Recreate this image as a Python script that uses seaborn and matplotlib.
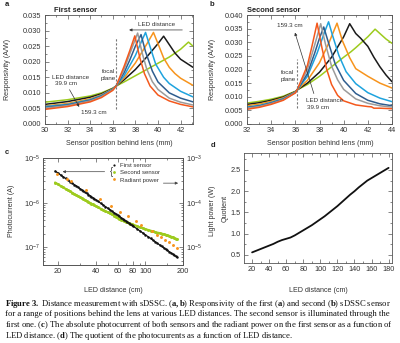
import matplotlib
matplotlib.use("Agg")
import numpy as np
import pandas as pd
import matplotlib.pyplot as plt
import seaborn as sns
from matplotlib.ticker import MultipleLocator, FixedLocator, FixedFormatter, NullFormatter
from matplotlib.lines import Line2D

sns.set_theme(style="ticks")
plt.rcParams['font.family'] = ['Liberation Sans', 'DejaVu Sans']
plt.rcParams['mathtext.fontset'] = 'custom'
plt.rcParams['mathtext.rm'] = 'Liberation Serif'
plt.rcParams['mathtext.bf'] = 'Liberation Serif:bold'
plt.rcParams['mathtext.it'] = 'Liberation Serif:italic'

# ---------------- data ----------------
led_labels = ['39.9 cm', '59.8 cm', '79.7 cm', '99.6 cm', '119.5 cm', '139.4 cm', '159.3 cm']
led_colors = ['#9dcb1e', '#1a1a1a', '#f7941d', '#1ea3de', '#2f5d8e', '#9b9b9b', '#f4581c']

# panel a : first sensor responsivity (A/W) vs sensor position (mm)
a_pos = [
    [30, 32, 34, 35, 36, 36.3, 37, 38, 39, 40, 41, 42, 42.7, 43.1],
    [30, 32, 34, 35, 36, 36.3, 37, 38, 39, 40, 40.5, 41, 41.5, 42, 43.1],
    [30, 32, 34, 35, 36, 36.3, 37, 38, 39, 39.6, 40, 40.5, 41, 41.5, 42, 43.1],
    [30, 32, 34, 35, 36, 36.3, 37, 38, 38.5, 38.9, 39.3, 39.8, 40.5, 41, 42, 43.1],
    [30, 32, 34, 35, 36, 36.3, 37, 37.5, 38, 38.5, 38.9, 39.5, 40, 41, 42, 43.1],
    [30, 32, 34, 35, 36, 36.3, 37, 37.5, 38.2, 38.6, 39, 39.5, 40, 41, 42, 43.1],
    [30, 32, 34, 35, 36, 36.3, 37, 37.5, 37.95, 38.4, 38.8, 39.3, 40, 41, 42, 43.1],
]
a_resp = [
    [0.0070, 0.0078, 0.0090, 0.0100, 0.0115, 0.0122, 0.0135, 0.0155, 0.0175, 0.0195, 0.0215, 0.0240, 0.0263, 0.0250],
    [0.0063, 0.0072, 0.0086, 0.0097, 0.0114, 0.0122, 0.0142, 0.0175, 0.0215, 0.0258, 0.0282, 0.0255, 0.0228, 0.0208, 0.0182],
    [0.0058, 0.0066, 0.0081, 0.0094, 0.0113, 0.0122, 0.0148, 0.0196, 0.0256, 0.0294, 0.0258, 0.0212, 0.0182, 0.0162, 0.0147, 0.0124],
    [0.0056, 0.0063, 0.0078, 0.0092, 0.0112, 0.0122, 0.0155, 0.0220, 0.0262, 0.0294, 0.0248, 0.0192, 0.0150, 0.0130, 0.0105, 0.0087],
    [0.0053, 0.0061, 0.0076, 0.0090, 0.0111, 0.0122, 0.0165, 0.0205, 0.0250, 0.0287, 0.0232, 0.0170, 0.0135, 0.0100, 0.0083, 0.0071],
    [0.0051, 0.0059, 0.0074, 0.0088, 0.0110, 0.0122, 0.0175, 0.0225, 0.0292, 0.0228, 0.0177, 0.0136, 0.0111, 0.0083, 0.0070, 0.0061],
    [0.0047, 0.0056, 0.0071, 0.0085, 0.0108, 0.0122, 0.0185, 0.0235, 0.0283, 0.0212, 0.0162, 0.0122, 0.0093, 0.0074, 0.0063, 0.0055],
]

# panel b : second sensor responsivity (A/W) vs sensor position (mm)
b_pos = [
    [32, 33, 34, 35, 36, 36.15, 37, 38, 39, 40, 40.6, 41, 42, 42.6, 43, 43.5, 44],
    [32, 33, 34, 35, 36, 36.15, 37, 38, 39, 40, 40.5, 41, 41.4, 42, 42.5, 43, 43.5, 44],
    [32, 33, 34, 35, 36, 36.15, 37, 38, 38.8, 39.45, 39.9, 40.5, 41, 42, 43, 44],
    [32, 33, 34, 35, 36, 36.15, 37, 37.8, 38.4, 38.75, 39.1, 39.6, 40.2, 41, 42, 43, 44],
    [32, 33, 34, 35, 36, 36.15, 37, 37.6, 38.0, 38.35, 38.8, 39.3, 40, 41, 42, 43, 44],
    [32, 33, 34, 35, 36, 36.15, 37, 37.6, 38.1, 38.5, 39, 39.5, 40, 41, 42, 43, 44],
    [32, 33, 34, 35, 36, 36.15, 37, 37.4, 37.8, 38.2, 38.6, 39, 39.5, 40, 41, 42, 42.3, 42.5, 43, 44],
]
b_resp = [
    [0.0077, 0.0083, 0.0091, 0.0102, 0.0120, 0.0125, 0.0145, 0.0175, 0.0210, 0.0245, 0.0265, 0.0280, 0.0320, 0.0348, 0.0332, 0.0312, 0.0296],
    [0.0072, 0.0078, 0.0087, 0.0099, 0.0119, 0.0125, 0.0150, 0.0190, 0.0245, 0.0320, 0.0368, 0.0332, 0.0315, 0.0285, 0.0245, 0.0210, 0.0180, 0.0155],
    [0.0067, 0.0073, 0.0083, 0.0096, 0.0118, 0.0125, 0.0160, 0.0225, 0.0300, 0.0370, 0.0305, 0.0243, 0.0203, 0.0175, 0.0150, 0.0132],
    [0.0062, 0.0068, 0.0079, 0.0093, 0.0117, 0.0125, 0.0175, 0.0260, 0.0335, 0.0375, 0.0322, 0.0252, 0.0192, 0.0148, 0.0115, 0.0095, 0.0082],
    [0.0060, 0.0066, 0.0077, 0.0091, 0.0116, 0.0125, 0.0185, 0.0260, 0.0315, 0.0356, 0.0290, 0.0220, 0.0160, 0.0112, 0.0087, 0.0074, 0.0067],
    [0.0058, 0.0064, 0.0075, 0.0089, 0.0115, 0.0125, 0.0200, 0.0290, 0.0368, 0.0292, 0.0212, 0.0162, 0.0127, 0.0092, 0.0076, 0.0067, 0.0062],
    [0.0054, 0.0061, 0.0072, 0.0087, 0.0114, 0.0125, 0.0215, 0.0290, 0.0370, 0.0280, 0.0200, 0.0145, 0.0105, 0.0085, 0.0070, 0.0064, 0.0063, 0.0058, 0.0058, 0.0056],
]
focal_a = 36.3
focal_b = 36.15

# panel c : photocurrents (uA) and radiant power (W) vs LED distance (cm)
pc_dist = [19, 20, 21, 22, 23, 24, 25, 26, 27, 28, 29, 30, 31, 32, 33, 34, 35, 36, 37, 38, 39, 40,
           42, 44, 46, 48, 50, 52, 54, 56, 58, 60, 62, 64, 66, 68, 70, 72, 74, 76, 78, 80,
           85, 90, 95, 100, 105, 110, 115, 120, 125, 130, 135, 140, 145, 150, 155, 160, 165, 170, 175, 180]
first_uA = [5.10, 4.61, 4.18, 3.81, 3.49, 3.21, 2.96, 2.74, 2.54, 2.37, 2.21, 2.06, 1.93, 1.82, 1.71, 1.61, 1.52, 1.44, 1.36, 1.29, 1.23, 1.17,
            1.06, 0.967, 0.886, 0.814, 0.751, 0.695, 0.645, 0.600, 0.560, 0.523, 0.490, 0.461, 0.433, 0.409, 0.386, 0.365, 0.345, 0.328, 0.311, 0.296,
            0.263, 0.234, 0.211, 0.190, 0.173, 0.158, 0.144, 0.133, 0.122, 0.113, 0.105, 0.0978, 0.0912, 0.0853, 0.0799, 0.0751, 0.0706, 0.0666, 0.0628, 0.0595]
second_uA = [2.82, 2.58, 2.37, 2.19, 2.04, 1.90, 1.78, 1.67, 1.56, 1.48, 1.40, 1.32, 1.25, 1.19, 1.14, 1.08, 1.03, 0.991, 0.947, 0.908, 0.876, 0.842,
             0.780, 0.727, 0.682, 0.643, 0.608, 0.574, 0.543, 0.514, 0.486, 0.460, 0.437, 0.417, 0.398, 0.384, 0.371, 0.359, 0.348, 0.338, 0.328, 0.320,
             0.300, 0.281, 0.268, 0.255, 0.244, 0.235, 0.226, 0.219, 0.212, 0.207, 0.202, 0.196, 0.191, 0.185, 0.180, 0.173, 0.167, 0.162, 0.156, 0.152]
rad_dist = [19.5, 23.5, 25.5, 33.5, 43.5, 53, 63, 73, 84, 92, 113, 124, 133, 144, 155, 166, 179]
rad_power = [4.4e-4, 3.4e-4, 3.1e-4, 1.95e-4, 1.23e-4, 8.6e-5, 6.3e-5, 4.9e-5, 3.8e-5, 3.1e-5,
             2.3e-5, 1.85e-5, 1.67e-5, 1.43e-5, 1.29e-5, 1.11e-5, 9.5e-6]

# panel d : quotient of photocurrents
quot_dist = [20, 25, 30, 35, 40, 45, 50, 55, 60, 65, 70, 75, 80, 85, 90, 95, 100, 105, 110, 115, 120,
             125, 130, 135, 140, 145, 150, 155, 160, 165, 170, 175, 180]
quotient = [0.56, 0.60, 0.64, 0.68, 0.72, 0.76, 0.81, 0.85, 0.88, 0.91, 0.96, 1.02, 1.08, 1.14, 1.20, 1.27, 1.34, 1.41, 1.49,
            1.57, 1.65, 1.74, 1.83, 1.92, 2.00, 2.09, 2.17, 2.25, 2.31, 2.37, 2.43, 2.49, 2.55]

caption_lines = [
    r"$\mathbf{Figure\ 3.}$ Distance measurement with sDSSC. ($\mathbf{a,b}$) Responsivity of the first ($\mathbf{a}$) and second ($\mathbf{b}$) sDSSC sensor",
    "for a range of positions behind the lens at various LED distances. The second sensor is illuminated through the",
    r"first one. ($\mathbf{c}$) The absolute photocurrent of both sensors and the radiant power on the first sensor as a function of",
    r"LED distance. ($\mathbf{d}$) The quotient of the photocurrents as a function of LED distance.",
]

# ---------------- figure ----------------
W, H = 400, 343
fig = plt.figure(figsize=(W / 100, H / 100), dpi=100)
fig.patch.set_facecolor('white')


def rect(l, t, r, b):
    return [l / W, 1 - b / H, (r - l) / W, (b - t) / H]


def ftext(x, y, s, **kw):
    fig.text(x / W, 1 - y / H, s, **kw)


TC = '#333333'
SC = '#555555'
TS = 5.3
LS = 5.1
AS = 4.5


def style(ax, right=True):
    for s in ax.spines.values():
        s.set_linewidth(0.6)
        s.set_color(SC)
    ax.tick_params(which='both', direction='in', top=True, right=right, width=0.5,
                   color=SC, labelsize=TS, labelcolor=TC, pad=2.5)
    ax.tick_params(which='major', length=2.8)
    ax.tick_params(which='minor', length=1.5)
    ax.grid(False)
    ax.set_facecolor('white')
    ax.set_xlabel('')
    ax.set_ylabel('')


def long_df(pos, resp):
    rows = []
    for lab, xs, ys in zip(led_labels, pos, resp):
        for x, y in zip(xs, ys):
            rows.append((lab, x, y))
    return pd.DataFrame(rows, columns=['dist', 'pos', 'resp'])


# ---- panel a ----
axA = fig.add_axes(rect(45, 15, 193, 124))
sns.lineplot(data=long_df(a_pos, a_resp), x='pos', y='resp', hue='dist', hue_order=led_labels,
             palette=led_colors, sort=False, estimator=None, lw=1.1, legend=False, ax=axA)
axA.set_xlim(30, 43.1)
axA.set_ylim(0, 0.035)
axA.xaxis.set_major_locator(FixedLocator([30, 32, 34, 36, 38, 40, 42]))
axA.xaxis.set_minor_locator(MultipleLocator(1))
axA.yaxis.set_major_locator(MultipleLocator(0.005))
axA.yaxis.set_minor_locator(MultipleLocator(0.0025))
axA.yaxis.set_major_formatter(matplotlib.ticker.FormatStrFormatter('%.3f'))
style(axA)
axA.axvline(focal_a, ymin=0.14, ymax=0.79, color='#777777', lw=0.8, ls=(0, (2, 1.6)))
axA.text(39.9, 0.0321, 'LED distance', fontsize=AS, color=TC, ha='center', va='center')
axA.annotate('', xy=(37.2, 0.0302), xytext=(42.4, 0.0302),
             arrowprops=dict(arrowstyle='-|>', lw=0.5, color='#333333', mutation_scale=4))
axA.text(30.6, 0.0150, 'LED distance', fontsize=AS, color=TC, ha='left', va='center')
axA.text(30.85, 0.0131, '39.9 cm', fontsize=AS, color=TC, ha='left', va='center')
axA.annotate('', xy=(33.15, 0.0047), xytext=(32.05, 0.0118),
             arrowprops=dict(arrowstyle='-|>', lw=0.5, color='#333333', mutation_scale=4))
axA.text(33.2, 0.0036, '159.3 cm', fontsize=AS, color=TC, ha='left', va='center')
axA.text(35.6, 0.0157, 'focal\nplane', fontsize=AS, color=TC, ha='center', va='center', linespacing=1.5)

# ---- panel b ----
axB = fig.add_axes(rect(247, 15, 392, 124))
sns.lineplot(data=long_df(b_pos, b_resp), x='pos', y='resp', hue='dist', hue_order=led_labels,
             palette=led_colors, sort=False, estimator=None, lw=1.1, legend=False, ax=axB)
axB.set_xlim(32, 44)
axB.set_ylim(0, 0.040)
axB.xaxis.set_major_locator(MultipleLocator(2))
axB.xaxis.set_minor_locator(MultipleLocator(1))
axB.yaxis.set_major_locator(MultipleLocator(0.005))
axB.yaxis.set_minor_locator(MultipleLocator(0.0025))
axB.yaxis.set_major_formatter(matplotlib.ticker.FormatStrFormatter('%.3f'))
style(axB)
axB.axvline(focal_b, ymin=0.145, ymax=0.60, color='#777777', lw=0.8, ls=(0, (2, 1.6)))
axB.text(35.56, 0.0363, '159.3 cm', fontsize=AS, color=TC, ha='center', va='center')
axB.annotate('', xy=(35.9, 0.0345), xytext=(37.6, 0.0102),
             arrowprops=dict(arrowstyle='-|>', lw=0.5, color='#333333', mutation_scale=4))
axB.text(36.9, 0.0086, 'LED distance', fontsize=AS, color=TC, ha='left', va='center')
axB.text(36.95, 0.0060, '39.9 cm', fontsize=AS, color=TC, ha='left', va='center')
axB.text(35.4, 0.0177, 'focal\nplane', fontsize=AS, color=TC, ha='center', va='center', linespacing=1.5)

# ---- panel c ----
axC = fig.add_axes(rect(43, 158, 183, 265))
first_A = [v * 1e-6 for v in first_uA]
second_A = [v * 1e-6 for v in second_uA]
sns.lineplot(x=pc_dist, y=first_A, color='#111111', lw=0.9, ax=axC, legend=False, zorder=3)
sns.scatterplot(x=pc_dist, y=first_A, color='#111111', s=3.2, linewidth=0, ax=axC, legend=False, zorder=3)
sns.lineplot(x=pc_dist, y=second_A, color='#9dcb1e', lw=1.6, ax=axC, legend=False, zorder=2)
sns.scatterplot(x=pc_dist, y=second_A, color='#9dcb1e', s=4.5, linewidth=0, ax=axC, legend=False, zorder=2)
axC.set_xscale('log')
axC.set_yscale('log')
axC.set_xlim(15.2, 200)
axC.set_ylim(4e-8, 1e-5)
axC.xaxis.set_major_locator(FixedLocator([20, 40, 60, 80, 100, 200]))
axC.xaxis.set_major_formatter(FixedFormatter(['20', '40', '60', '80', '100', '200']))
axC.xaxis.set_minor_locator(FixedLocator([30, 50, 70, 90, 150]))
axC.xaxis.set_minor_formatter(NullFormatter())
axC.yaxis.set_major_locator(FixedLocator([1e-7, 1e-6, 1e-5]))
axC.yaxis.set_major_formatter(FixedFormatter([r'$\mathdefault{10^{-7}}$', r'$\mathdefault{10^{-6}}$', r'$\mathdefault{10^{-5}}$']))
axC.yaxis.set_minor_locator(matplotlib.ticker.LogLocator(base=10, subs=np.arange(2, 10)))
axC.yaxis.set_minor_formatter(NullFormatter())
style(axC, right=False)

axC2 = axC.twinx()
sns.scatterplot(x=rad_dist, y=rad_power, color='#f7941d', s=4.5, linewidth=0, ax=axC2, legend=False)
axC2.set_yscale('log')
axC2.set_ylim(4e-6, 1e-3)
axC2.yaxis.set_major_locator(FixedLocator([1e-5, 1e-4, 1e-3]))
axC2.yaxis.set_major_formatter(FixedFormatter([r'$\mathdefault{10^{-5}}$', r'$\mathdefault{10^{-4}}$', r'$\mathdefault{10^{-3}}$']))
axC2.yaxis.set_minor_locator(matplotlib.ticker.LogLocator(base=10, subs=np.arange(2, 10)))
axC2.yaxis.set_minor_formatter(NullFormatter())
style(axC2)
axC2.tick_params(which='both', left=False, top=False, bottom=False)

handles = [Line2D([], [], ls='none', marker='o', ms=1.6, mew=0, color='#111111'),
           Line2D([], [], ls='none', marker='o', ms=2.0, mew=0, color='#9dcb1e'),
           Line2D([], [], ls='none', marker='o', ms=2.0, mew=0, color='#f7941d')]
leg = axC2.legend(handles, ['First sensor', 'Second sensor', 'Radiant power'], loc='upper left',
                  bbox_to_anchor=(0.50, 0.955), frameon=False, fontsize=4.3, handlelength=0.5,
                  handletextpad=0.7, labelspacing=0.35, borderaxespad=0, borderpad=0)
for t in leg.get_texts():
    t.set_color(TC)
axC2.text(0.487, 0.872, '{', transform=axC2.transAxes, fontsize=7, ha='center', va='center', color='#444444')
axC2.annotate('', xy=(0.12, 0.872), xytext=(0.46, 0.872), xycoords='axes fraction', textcoords='axes fraction',
              arrowprops=dict(arrowstyle='-|>', lw=0.5, color='#444444', mutation_scale=4))
axC2.annotate('', xy=(0.985, 0.765), xytext=(0.84, 0.765), xycoords='axes fraction', textcoords='axes fraction',
              arrowprops=dict(arrowstyle='-|>', lw=0.5, color='#444444', mutation_scale=4))

# ---- panel d ----
axD = fig.add_axes(rect(244, 153, 392, 263))
sns.lineplot(x=quot_dist, y=quotient, color='#111111', lw=1.3, ax=axD)
axD.set_xlim(10.5, 184)
axD.set_ylim(0.31, 2.9)
axD.xaxis.set_major_locator(MultipleLocator(20))
axD.xaxis.set_minor_locator(MultipleLocator(10))
axD.yaxis.set_major_locator(MultipleLocator(0.5))
axD.yaxis.set_minor_locator(MultipleLocator(0.25))
style(axD)

# ---- labels ----
ftext(5, 5, 'a', fontsize=5.5, fontweight='bold', color='#222222', va='center', ha='left')
ftext(210, 5, 'b', fontsize=5.5, fontweight='bold', color='#222222', va='center', ha='left')
ftext(5, 153, 'c', fontsize=5.5, fontweight='bold', color='#222222', va='center', ha='left')
ftext(211, 146, 'd', fontsize=5.5, fontweight='bold', color='#222222', va='center', ha='left')
ftext(54, 10, 'First sensor', fontsize=5.4, fontweight='bold', color='#222222', va='center', ha='left')
ftext(247, 10, 'Second sensor', fontsize=5.4, fontweight='bold', color='#222222', va='center', ha='left')

ftext(8, 69.5, 'Responsivity (A/W)', fontsize=LS, color=TC, rotation=90, va='center', ha='center')
ftext(119, 143, 'Sensor position behind lens (mm)', fontsize=LS, color=TC, va='center', ha='center')
ftext(212, 69.5, 'Responsivity (A/W)', fontsize=LS, color=TC, rotation=90, va='center', ha='center')
ftext(320, 143, 'Sensor position behind lens (mm)', fontsize=LS, color=TC, va='center', ha='center')
ftext(12, 211, 'Photocurrent (A)', fontsize=LS, color=TC, rotation=90, va='center', ha='center')
ftext(212, 211, 'Light power (W)', fontsize=LS, color=TC, rotation=90, va='center', ha='center')
ftext(113, 290, 'LED distance (cm)', fontsize=LS, color=TC, va='center', ha='center')
ftext(225, 208, 'Quotient', fontsize=LS, color=TC, rotation=90, va='center', ha='center')
ftext(318, 290, 'LED distance (cm)', fontsize=LS, color=TC, va='center', ha='center')

cap_y = [304, 314.5, 325, 335.5]
for yy, line in zip(cap_y, caption_lines):
    ftext(5, yy, line, fontsize=6.2, family='Liberation Serif', color='#111111', va='center', ha='left')

fig.savefig('out.png', dpi=100, facecolor='white')
